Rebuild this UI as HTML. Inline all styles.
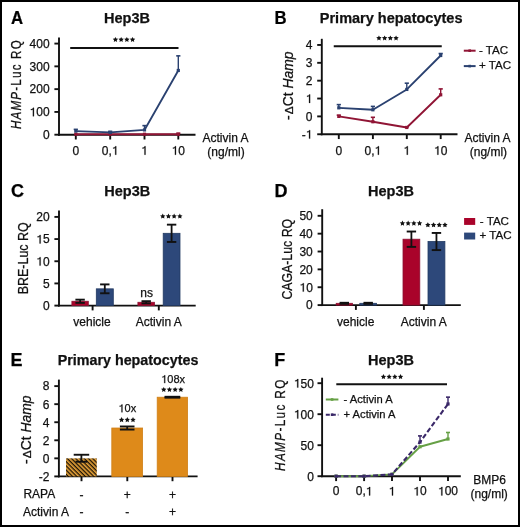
<!DOCTYPE html>
<html><head><meta charset="utf-8"><style>
html,body{margin:0;padding:0;background:#fff;}
body{width:520px;height:527px;overflow:hidden;position:relative;}
svg{position:absolute;left:0;top:0;font-family:"Liberation Sans", sans-serif;will-change:transform;}
text{stroke:#111;stroke-width:0.25px;}
.frame{position:absolute;left:0;top:0;width:520px;height:527px;box-sizing:border-box;border:2px solid #000;}
</style></head><body>
<svg width="520" height="527" viewBox="0 0 520 527">
<rect width="520" height="527" fill="#fff"/>
<text transform="translate(11.00,23.60) scale(0.93,1)" font-size="18" font-weight="bold" fill="#000">A</text>
<text x="127.00" y="23.30" font-size="14.5" text-anchor="middle" font-weight="bold" font-style="normal" fill="#111" >Hep3B</text>
<line x1="59.00" y1="37.40" x2="59.00" y2="135.65" stroke="#111" stroke-width="1.9" />
<line x1="54.40" y1="43.58" x2="59.00" y2="43.58" stroke="#111" stroke-width="1.9" />
<text x="49.60" y="47.93" font-size="12" text-anchor="end" font-weight="normal" font-style="normal" fill="#111" >400</text>
<line x1="54.40" y1="66.36" x2="59.00" y2="66.36" stroke="#111" stroke-width="1.9" />
<text x="49.60" y="70.71" font-size="12" text-anchor="end" font-weight="normal" font-style="normal" fill="#111" >300</text>
<line x1="54.40" y1="89.14" x2="59.00" y2="89.14" stroke="#111" stroke-width="1.9" />
<text x="49.60" y="93.49" font-size="12" text-anchor="end" font-weight="normal" font-style="normal" fill="#111" >200</text>
<line x1="54.40" y1="111.92" x2="59.00" y2="111.92" stroke="#111" stroke-width="1.9" />
<polygon points="33.96,116.27 33.96,107.83 33.00,107.83 32.73,108.59 31.98,109.07 30.84,109.25 30.84,110.03 31.98,109.97 32.52,109.67 32.88,109.37 32.88,116.27" fill="#111" stroke="#111" stroke-width="0.25"/>
<text x="36.26" y="116.27" font-size="12" fill="#111" >00</text>
<line x1="54.40" y1="134.70" x2="59.00" y2="134.70" stroke="#111" stroke-width="1.9" />
<text x="49.60" y="139.05" font-size="12" text-anchor="end" font-weight="normal" font-style="normal" fill="#111" >0</text>
<line x1="58.05" y1="134.70" x2="195.50" y2="134.70" stroke="#111" stroke-width="1.9" />
<line x1="75.80" y1="134.70" x2="75.80" y2="139.50" stroke="#111" stroke-width="1.9" />
<text x="75.80" y="154.70" font-size="12" text-anchor="middle" font-weight="normal" font-style="normal" fill="#111" >0</text>
<line x1="110.20" y1="134.70" x2="110.20" y2="139.50" stroke="#111" stroke-width="1.9" />
<text x="101.86" y="154.70" font-size="12" fill="#111" >0,</text>
<polygon points="116.25,154.70 116.25,146.26 115.29,146.26 115.01,147.02 114.27,147.50 113.13,147.68 113.13,148.46 114.27,148.40 114.81,148.10 115.17,147.80 115.17,154.70" fill="#111" stroke="#111" stroke-width="0.25"/>
<line x1="144.50" y1="134.70" x2="144.50" y2="139.50" stroke="#111" stroke-width="1.9" />
<polygon points="145.54,154.70 145.54,146.26 144.58,146.26 144.31,147.02 143.56,147.50 142.42,147.68 142.42,148.46 143.56,148.40 144.10,148.10 144.46,147.80 144.46,154.70" fill="#111" stroke="#111" stroke-width="0.25"/>
<line x1="178.30" y1="134.70" x2="178.30" y2="139.50" stroke="#111" stroke-width="1.9" />
<polygon points="176.01,154.70 176.01,146.26 175.05,146.26 174.77,147.02 174.03,147.50 172.89,147.68 172.89,148.46 174.03,148.40 174.57,148.10 174.93,147.80 174.93,154.70" fill="#111" stroke="#111" stroke-width="0.25"/>
<text x="178.30" y="154.70" font-size="12" fill="#111" >0</text>
<text x="202.50" y="142.30" font-size="12" text-anchor="start" font-weight="normal" font-style="normal" fill="#111" >Activin A</text>
<text x="226.00" y="156.10" font-size="12" text-anchor="middle" font-weight="normal" font-style="normal" fill="#111" >(ng/ml)</text>
<line x1="70.20" y1="48.00" x2="178.50" y2="48.00" stroke="#111" stroke-width="2.0" />
<polygon points="115.45,36.90 116.27,38.57 118.11,38.83 116.78,40.13 117.10,41.97 115.45,41.10 113.80,41.97 114.12,40.13 112.79,38.83 114.63,38.57" fill="#111"/>
<polygon points="121.15,36.90 121.97,38.57 123.81,38.83 122.48,40.13 122.80,41.97 121.15,41.10 119.50,41.97 119.82,40.13 118.49,38.83 120.33,38.57" fill="#111"/>
<polygon points="126.85,36.90 127.67,38.57 129.51,38.83 128.18,40.13 128.50,41.97 126.85,41.10 125.20,41.97 125.52,40.13 124.19,38.83 126.03,38.57" fill="#111"/>
<polygon points="132.55,36.90 133.37,38.57 135.21,38.83 133.88,40.13 134.20,41.97 132.55,41.10 130.90,41.97 131.22,40.13 129.89,38.83 131.73,38.57" fill="#111"/>
<path d="M75.80,134.24 L110.20,134.24 L144.50,134.24 L178.30,134.24" fill="none" stroke="#901535" stroke-width="1.85" stroke-linejoin="round" />
<line x1="178.30" y1="133.24" x2="178.30" y2="134.24" stroke="#901535" stroke-width="1.4" />
<line x1="176.20" y1="133.24" x2="180.40" y2="133.24" stroke="#901535" stroke-width="1.6" />
<rect x="74.20" y="132.64" width="3.20" height="3.20" fill="#901535" />
<rect x="108.60" y="132.64" width="3.20" height="3.20" fill="#901535" />
<rect x="142.90" y="132.64" width="3.20" height="3.20" fill="#901535" />
<rect x="176.70" y="132.64" width="3.20" height="3.20" fill="#901535" />
<path d="M75.80,131.06 L110.20,132.42 L144.50,129.92 L178.30,70.46" fill="none" stroke="#2a4170" stroke-width="1.85" stroke-linejoin="round" />
<line x1="75.80" y1="129.36" x2="75.80" y2="131.06" stroke="#2a4170" stroke-width="1.4" />
<line x1="73.70" y1="129.36" x2="77.90" y2="129.36" stroke="#2a4170" stroke-width="1.6" />
<line x1="110.20" y1="131.42" x2="110.20" y2="132.42" stroke="#2a4170" stroke-width="1.4" />
<line x1="108.10" y1="131.42" x2="112.30" y2="131.42" stroke="#2a4170" stroke-width="1.6" />
<line x1="144.50" y1="125.62" x2="144.50" y2="129.92" stroke="#2a4170" stroke-width="1.4" />
<line x1="142.40" y1="125.62" x2="146.60" y2="125.62" stroke="#2a4170" stroke-width="1.6" />
<line x1="178.30" y1="55.86" x2="178.30" y2="70.46" stroke="#2a4170" stroke-width="1.4" />
<line x1="176.20" y1="55.86" x2="180.40" y2="55.86" stroke="#2a4170" stroke-width="1.6" />
<rect x="74.20" y="129.46" width="3.20" height="3.20" fill="#2a4170" />
<rect x="108.60" y="130.82" width="3.20" height="3.20" fill="#2a4170" />
<rect x="142.90" y="128.32" width="3.20" height="3.20" fill="#2a4170" />
<rect x="176.70" y="68.86" width="3.20" height="3.20" fill="#2a4170" />
<text transform="translate(21.40,84.10) rotate(-90) scale(0.8,1)" font-size="14.5" text-anchor="middle" fill="#111" letter-spacing="1.5"><tspan font-style="italic" >HAMP</tspan><tspan font-style="normal" >-Luc RQ</tspan></text>
<text transform="translate(274.60,23.60) scale(0.93,1)" font-size="18" font-weight="bold" fill="#000">B</text>
<text x="319.80" y="22.80" font-size="14.5" text-anchor="start" font-weight="bold" font-style="normal" fill="#111" >Primary hepatocytes</text>
<line x1="321.80" y1="38.80" x2="321.80" y2="135.21" stroke="#111" stroke-width="1.9" />
<line x1="317.20" y1="44.96" x2="321.80" y2="44.96" stroke="#111" stroke-width="1.9" />
<text x="312.40" y="49.31" font-size="12" text-anchor="end" font-weight="normal" font-style="normal" fill="#111" >4</text>
<line x1="317.20" y1="62.82" x2="321.80" y2="62.82" stroke="#111" stroke-width="1.9" />
<text x="312.40" y="67.17" font-size="12" text-anchor="end" font-weight="normal" font-style="normal" fill="#111" >3</text>
<line x1="317.20" y1="80.68" x2="321.80" y2="80.68" stroke="#111" stroke-width="1.9" />
<text x="312.40" y="85.03" font-size="12" text-anchor="end" font-weight="normal" font-style="normal" fill="#111" >2</text>
<line x1="317.20" y1="98.54" x2="321.80" y2="98.54" stroke="#111" stroke-width="1.9" />
<polygon points="310.11,102.89 310.11,94.45 309.15,94.45 308.87,95.21 308.13,95.69 306.99,95.87 306.99,96.65 308.13,96.59 308.67,96.29 309.03,95.99 309.03,102.89" fill="#111" stroke="#111" stroke-width="0.25"/>
<line x1="317.20" y1="116.40" x2="321.80" y2="116.40" stroke="#111" stroke-width="1.9" />
<text x="312.40" y="120.75" font-size="12" text-anchor="end" font-weight="normal" font-style="normal" fill="#111" >0</text>
<line x1="317.20" y1="134.26" x2="321.80" y2="134.26" stroke="#111" stroke-width="1.9" />
<text x="301.73" y="138.61" font-size="12" fill="#111" >-</text>
<polygon points="310.11,138.61 310.11,130.17 309.15,130.17 308.87,130.93 308.13,131.41 306.99,131.59 306.99,132.37 308.13,132.31 308.67,132.01 309.03,131.71 309.03,138.61" fill="#111" stroke="#111" stroke-width="0.25"/>
<line x1="320.85" y1="134.26" x2="457.50" y2="134.26" stroke="#111" stroke-width="1.9" />
<line x1="338.80" y1="134.26" x2="338.80" y2="139.06" stroke="#111" stroke-width="1.9" />
<text x="338.80" y="154.70" font-size="12" text-anchor="middle" font-weight="normal" font-style="normal" fill="#111" >0</text>
<line x1="372.90" y1="134.26" x2="372.90" y2="139.06" stroke="#111" stroke-width="1.9" />
<text x="364.56" y="154.70" font-size="12" fill="#111" >0,</text>
<polygon points="378.95,154.70 378.95,146.26 377.99,146.26 377.71,147.02 376.97,147.50 375.83,147.68 375.83,148.46 376.97,148.40 377.51,148.10 377.87,147.80 377.87,154.70" fill="#111" stroke="#111" stroke-width="0.25"/>
<line x1="406.80" y1="134.26" x2="406.80" y2="139.06" stroke="#111" stroke-width="1.9" />
<polygon points="407.84,154.70 407.84,146.26 406.88,146.26 406.61,147.02 405.86,147.50 404.72,147.68 404.72,148.46 405.86,148.40 406.40,148.10 406.76,147.80 406.76,154.70" fill="#111" stroke="#111" stroke-width="0.25"/>
<line x1="440.70" y1="134.26" x2="440.70" y2="139.06" stroke="#111" stroke-width="1.9" />
<polygon points="438.41,154.70 438.41,146.26 437.45,146.26 437.17,147.02 436.43,147.50 435.29,147.68 435.29,148.46 436.43,148.40 436.97,148.10 437.33,147.80 437.33,154.70" fill="#111" stroke="#111" stroke-width="0.25"/>
<text x="440.70" y="154.70" font-size="12" fill="#111" >0</text>
<text x="464.50" y="142.30" font-size="12" text-anchor="start" font-weight="normal" font-style="normal" fill="#111" >Activin A</text>
<text x="488.40" y="156.10" font-size="12" text-anchor="middle" font-weight="normal" font-style="normal" fill="#111" >(ng/ml)</text>
<line x1="333.75" y1="46.20" x2="441.75" y2="46.20" stroke="#111" stroke-width="2.0" />
<polygon points="378.95,35.40 379.77,37.07 381.61,37.33 380.28,38.63 380.60,40.47 378.95,39.60 377.30,40.47 377.62,38.63 376.29,37.33 378.13,37.07" fill="#111"/>
<polygon points="384.65,35.40 385.47,37.07 387.31,37.33 385.98,38.63 386.30,40.47 384.65,39.60 383.00,40.47 383.32,38.63 381.99,37.33 383.83,37.07" fill="#111"/>
<polygon points="390.35,35.40 391.17,37.07 393.01,37.33 391.68,38.63 392.00,40.47 390.35,39.60 388.70,40.47 389.02,38.63 387.69,37.33 389.53,37.07" fill="#111"/>
<polygon points="396.05,35.40 396.87,37.07 398.71,37.33 397.38,38.63 397.70,40.47 396.05,39.60 394.40,40.47 394.72,38.63 393.39,37.33 395.23,37.07" fill="#111"/>
<path d="M338.80,116.40 L372.90,121.76 L406.80,127.47 L440.70,94.79" fill="none" stroke="#901535" stroke-width="1.85" stroke-linejoin="round" />
<line x1="338.80" y1="115.15" x2="338.80" y2="116.40" stroke="#901535" stroke-width="1.4" />
<line x1="336.70" y1="115.15" x2="340.90" y2="115.15" stroke="#901535" stroke-width="1.6" />
<line x1="372.90" y1="117.30" x2="372.90" y2="121.76" stroke="#901535" stroke-width="1.4" />
<line x1="370.80" y1="117.30" x2="375.00" y2="117.30" stroke="#901535" stroke-width="1.6" />
<line x1="406.80" y1="126.76" x2="406.80" y2="127.47" stroke="#901535" stroke-width="1.4" />
<line x1="404.70" y1="126.76" x2="408.90" y2="126.76" stroke="#901535" stroke-width="1.6" />
<line x1="440.70" y1="88.90" x2="440.70" y2="94.79" stroke="#901535" stroke-width="1.4" />
<line x1="438.60" y1="88.90" x2="442.80" y2="88.90" stroke="#901535" stroke-width="1.6" />
<rect x="337.20" y="114.80" width="3.20" height="3.20" fill="#901535" />
<rect x="371.30" y="120.16" width="3.20" height="3.20" fill="#901535" />
<rect x="405.20" y="125.87" width="3.20" height="3.20" fill="#901535" />
<rect x="439.10" y="93.19" width="3.20" height="3.20" fill="#901535" />
<path d="M338.80,107.83 L372.90,109.79 L406.80,89.43 L440.70,55.50" fill="none" stroke="#2a4170" stroke-width="1.85" stroke-linejoin="round" />
<line x1="338.80" y1="104.62" x2="338.80" y2="107.83" stroke="#2a4170" stroke-width="1.4" />
<line x1="336.70" y1="104.62" x2="340.90" y2="104.62" stroke="#2a4170" stroke-width="1.6" />
<line x1="372.90" y1="106.40" x2="372.90" y2="109.79" stroke="#2a4170" stroke-width="1.4" />
<line x1="370.80" y1="106.40" x2="375.00" y2="106.40" stroke="#2a4170" stroke-width="1.6" />
<line x1="406.80" y1="83.19" x2="406.80" y2="89.43" stroke="#2a4170" stroke-width="1.4" />
<line x1="404.70" y1="83.19" x2="408.90" y2="83.19" stroke="#2a4170" stroke-width="1.6" />
<line x1="440.70" y1="53.54" x2="440.70" y2="55.50" stroke="#2a4170" stroke-width="1.4" />
<line x1="438.60" y1="53.54" x2="442.80" y2="53.54" stroke="#2a4170" stroke-width="1.6" />
<rect x="337.20" y="106.23" width="3.20" height="3.20" fill="#2a4170" />
<rect x="371.30" y="108.19" width="3.20" height="3.20" fill="#2a4170" />
<rect x="405.20" y="87.83" width="3.20" height="3.20" fill="#2a4170" />
<rect x="439.10" y="53.90" width="3.20" height="3.20" fill="#2a4170" />
<text transform="translate(293.10,85.80) rotate(-90) scale(1.0,1)" font-size="13.9" text-anchor="middle" fill="#111" ><tspan font-style="normal" >-</tspan><tspan font-style="normal" font-size="11.8" dx="1.2">Δ</tspan><tspan font-style="normal" >Ct </tspan><tspan font-style="italic" >Hamp</tspan></text>
<line x1="463.80" y1="50.70" x2="475.60" y2="50.70" stroke="#901535" stroke-width="2.0" />
<rect x="468.40" y="49.40" width="2.60" height="2.60" fill="#901535" />
<text x="479.00" y="54.00" font-size="11.6" text-anchor="start" font-weight="normal" font-style="normal" fill="#111" >- TAC</text>
<line x1="463.80" y1="66.10" x2="475.60" y2="66.10" stroke="#2a4170" stroke-width="2.0" />
<rect x="468.40" y="64.80" width="2.60" height="2.60" fill="#2a4170" />
<text x="479.00" y="69.10" font-size="11.6" text-anchor="start" font-weight="normal" font-style="normal" fill="#111" >+ TAC</text>
<text transform="translate(11.00,196.60) scale(1.0,1)" font-size="18" font-weight="bold" fill="#000">C</text>
<text x="127.30" y="195.80" font-size="14.5" text-anchor="middle" font-weight="bold" font-style="normal" fill="#111" >Hep3B</text>
<line x1="59.00" y1="210.40" x2="59.00" y2="306.55" stroke="#111" stroke-width="1.9" />
<line x1="54.40" y1="216.90" x2="59.00" y2="216.90" stroke="#111" stroke-width="1.9" />
<text x="49.60" y="221.25" font-size="12" text-anchor="end" font-weight="normal" font-style="normal" fill="#111" >20</text>
<line x1="54.40" y1="239.08" x2="59.00" y2="239.08" stroke="#111" stroke-width="1.9" />
<polygon points="40.64,243.43 40.64,234.99 39.68,234.99 39.40,235.75 38.66,236.23 37.52,236.41 37.52,237.19 38.66,237.13 39.20,236.83 39.56,236.53 39.56,243.43" fill="#111" stroke="#111" stroke-width="0.25"/>
<text x="42.93" y="243.43" font-size="12" fill="#111" >5</text>
<line x1="54.40" y1="261.25" x2="59.00" y2="261.25" stroke="#111" stroke-width="1.9" />
<polygon points="40.64,265.60 40.64,257.16 39.68,257.16 39.40,257.92 38.66,258.40 37.52,258.58 37.52,259.36 38.66,259.30 39.20,259.00 39.56,258.70 39.56,265.60" fill="#111" stroke="#111" stroke-width="0.25"/>
<text x="42.93" y="265.60" font-size="12" fill="#111" >0</text>
<line x1="54.40" y1="283.43" x2="59.00" y2="283.43" stroke="#111" stroke-width="1.9" />
<text x="49.60" y="287.78" font-size="12" text-anchor="end" font-weight="normal" font-style="normal" fill="#111" >5</text>
<line x1="54.40" y1="305.60" x2="59.00" y2="305.60" stroke="#111" stroke-width="1.9" />
<text x="49.60" y="309.95" font-size="12" text-anchor="end" font-weight="normal" font-style="normal" fill="#111" >0</text>
<line x1="58.05" y1="305.60" x2="195.70" y2="305.60" stroke="#111" stroke-width="1.9" />
<line x1="92.60" y1="305.60" x2="92.60" y2="310.40" stroke="#111" stroke-width="1.9" />
<line x1="158.80" y1="305.60" x2="158.80" y2="310.40" stroke="#111" stroke-width="1.9" />
<text x="92.00" y="325.80" font-size="12" text-anchor="middle" font-weight="normal" font-style="normal" fill="#111" >vehicle</text>
<text x="158.80" y="325.80" font-size="12" text-anchor="middle" font-weight="normal" font-style="normal" fill="#111" >Activin A</text>
<rect x="71.90" y="301.25" width="16.40" height="4.35" fill="#a9032a" stroke="#8a1232" stroke-width="0.8"/>
<line x1="80.10" y1="299.66" x2="80.10" y2="302.85" stroke="#111" stroke-width="1.8" />
<line x1="75.40" y1="299.66" x2="84.80" y2="299.66" stroke="#111" stroke-width="1.9" />
<line x1="75.40" y1="302.85" x2="84.80" y2="302.85" stroke="#111" stroke-width="1.9" />
<rect x="96.30" y="288.84" width="17.00" height="16.76" fill="#2d487a" stroke="#223a62" stroke-width="0.8"/>
<line x1="104.80" y1="284.40" x2="104.80" y2="293.27" stroke="#111" stroke-width="1.8" />
<line x1="100.10" y1="284.40" x2="109.50" y2="284.40" stroke="#111" stroke-width="1.9" />
<line x1="100.10" y1="293.27" x2="109.50" y2="293.27" stroke="#111" stroke-width="1.9" />
<rect x="137.90" y="302.27" width="16.60" height="3.33" fill="#a9032a" stroke="#8a1232" stroke-width="0.8"/>
<line x1="146.20" y1="301.17" x2="146.20" y2="303.38" stroke="#111" stroke-width="1.8" />
<line x1="141.50" y1="301.17" x2="150.90" y2="301.17" stroke="#111" stroke-width="1.9" />
<line x1="141.50" y1="303.38" x2="150.90" y2="303.38" stroke="#111" stroke-width="1.9" />
<rect x="163.20" y="233.31" width="16.80" height="72.29" fill="#2d487a" stroke="#223a62" stroke-width="0.8"/>
<line x1="171.60" y1="224.66" x2="171.60" y2="241.96" stroke="#111" stroke-width="1.8" />
<line x1="166.90" y1="224.66" x2="176.30" y2="224.66" stroke="#111" stroke-width="1.9" />
<line x1="166.90" y1="241.96" x2="176.30" y2="241.96" stroke="#111" stroke-width="1.9" />
<text x="146.60" y="296.80" font-size="12" text-anchor="middle" font-weight="normal" font-style="normal" fill="#111" >ns</text>
<polygon points="162.75,213.50 163.57,215.17 165.41,215.43 164.08,216.73 164.40,218.57 162.75,217.70 161.10,218.57 161.42,216.73 160.09,215.43 161.93,215.17" fill="#111"/>
<polygon points="168.45,213.50 169.27,215.17 171.11,215.43 169.78,216.73 170.10,218.57 168.45,217.70 166.80,218.57 167.12,216.73 165.79,215.43 167.63,215.17" fill="#111"/>
<polygon points="174.15,213.50 174.97,215.17 176.81,215.43 175.48,216.73 175.80,218.57 174.15,217.70 172.50,218.57 172.82,216.73 171.49,215.43 173.33,215.17" fill="#111"/>
<polygon points="179.85,213.50 180.67,215.17 182.51,215.43 181.18,216.73 181.50,218.57 179.85,217.70 178.20,218.57 178.52,216.73 177.19,215.43 179.03,215.17" fill="#111"/>
<text transform="translate(28.30,258.30) rotate(-90) scale(0.89,1)" font-size="14" text-anchor="middle" fill="#111" ><tspan font-style="normal" >BRE-Luc RQ</tspan></text>
<text transform="translate(274.50,196.60) scale(1.0,1)" font-size="18" font-weight="bold" fill="#000">D</text>
<text x="391.00" y="195.50" font-size="14.5" text-anchor="middle" font-weight="bold" font-style="normal" fill="#111" >Hep3B</text>
<line x1="322.20" y1="209.20" x2="322.20" y2="306.05" stroke="#111" stroke-width="1.9" />
<line x1="317.60" y1="215.80" x2="322.20" y2="215.80" stroke="#111" stroke-width="1.9" />
<text x="312.80" y="220.15" font-size="12" text-anchor="end" font-weight="normal" font-style="normal" fill="#111" >50</text>
<line x1="317.60" y1="233.66" x2="322.20" y2="233.66" stroke="#111" stroke-width="1.9" />
<text x="312.80" y="238.01" font-size="12" text-anchor="end" font-weight="normal" font-style="normal" fill="#111" >40</text>
<line x1="317.60" y1="251.52" x2="322.20" y2="251.52" stroke="#111" stroke-width="1.9" />
<text x="312.80" y="255.87" font-size="12" text-anchor="end" font-weight="normal" font-style="normal" fill="#111" >30</text>
<line x1="317.60" y1="269.38" x2="322.20" y2="269.38" stroke="#111" stroke-width="1.9" />
<text x="312.80" y="273.73" font-size="12" text-anchor="end" font-weight="normal" font-style="normal" fill="#111" >20</text>
<line x1="317.60" y1="287.24" x2="322.20" y2="287.24" stroke="#111" stroke-width="1.9" />
<polygon points="303.84,291.59 303.84,283.15 302.88,283.15 302.60,283.91 301.86,284.39 300.72,284.57 300.72,285.35 301.86,285.29 302.40,284.99 302.76,284.69 302.76,291.59" fill="#111" stroke="#111" stroke-width="0.25"/>
<text x="306.13" y="291.59" font-size="12" fill="#111" >0</text>
<line x1="317.60" y1="305.10" x2="322.20" y2="305.10" stroke="#111" stroke-width="1.9" />
<text x="312.80" y="309.45" font-size="12" text-anchor="end" font-weight="normal" font-style="normal" fill="#111" >0</text>
<line x1="321.25" y1="305.10" x2="460.80" y2="305.10" stroke="#111" stroke-width="1.9" />
<line x1="355.90" y1="305.10" x2="355.90" y2="309.90" stroke="#111" stroke-width="1.9" />
<line x1="423.90" y1="305.10" x2="423.90" y2="309.90" stroke="#111" stroke-width="1.9" />
<text x="355.70" y="325.50" font-size="12" text-anchor="middle" font-weight="normal" font-style="normal" fill="#111" >vehicle</text>
<text x="423.80" y="325.50" font-size="12" text-anchor="middle" font-weight="normal" font-style="normal" fill="#111" >Activin A</text>
<rect x="336.20" y="303.31" width="16.20" height="1.79" fill="#a9032a" stroke="#8a1232" stroke-width="0.8"/>
<line x1="344.30" y1="302.78" x2="344.30" y2="303.85" stroke="#111" stroke-width="1.8" />
<line x1="339.60" y1="302.78" x2="349.00" y2="302.78" stroke="#111" stroke-width="1.9" />
<line x1="339.60" y1="303.85" x2="349.00" y2="303.85" stroke="#111" stroke-width="1.9" />
<rect x="359.80" y="303.31" width="16.80" height="1.79" fill="#2d487a" stroke="#223a62" stroke-width="0.8"/>
<line x1="368.20" y1="302.78" x2="368.20" y2="303.85" stroke="#111" stroke-width="1.8" />
<line x1="363.50" y1="302.78" x2="372.90" y2="302.78" stroke="#111" stroke-width="1.9" />
<line x1="363.50" y1="303.85" x2="372.90" y2="303.85" stroke="#111" stroke-width="1.9" />
<rect x="403.00" y="239.20" width="16.80" height="65.90" fill="#a9032a" stroke="#8a1232" stroke-width="0.8"/>
<line x1="411.40" y1="231.52" x2="411.40" y2="246.88" stroke="#111" stroke-width="1.8" />
<line x1="406.70" y1="231.52" x2="416.10" y2="231.52" stroke="#111" stroke-width="1.9" />
<line x1="406.70" y1="246.88" x2="416.10" y2="246.88" stroke="#111" stroke-width="1.9" />
<rect x="428.00" y="241.52" width="16.90" height="63.58" fill="#2d487a" stroke="#223a62" stroke-width="0.8"/>
<line x1="436.45" y1="232.95" x2="436.45" y2="250.09" stroke="#111" stroke-width="1.8" />
<line x1="431.75" y1="232.95" x2="441.15" y2="232.95" stroke="#111" stroke-width="1.9" />
<line x1="431.75" y1="250.09" x2="441.15" y2="250.09" stroke="#111" stroke-width="1.9" />
<polygon points="402.45,220.60 403.27,222.27 405.11,222.53 403.78,223.83 404.10,225.67 402.45,224.80 400.80,225.67 401.12,223.83 399.79,222.53 401.63,222.27" fill="#111"/>
<polygon points="408.15,220.60 408.97,222.27 410.81,222.53 409.48,223.83 409.80,225.67 408.15,224.80 406.50,225.67 406.82,223.83 405.49,222.53 407.33,222.27" fill="#111"/>
<polygon points="413.85,220.60 414.67,222.27 416.51,222.53 415.18,223.83 415.50,225.67 413.85,224.80 412.20,225.67 412.52,223.83 411.19,222.53 413.03,222.27" fill="#111"/>
<polygon points="419.55,220.60 420.37,222.27 422.21,222.53 420.88,223.83 421.20,225.67 419.55,224.80 417.90,225.67 418.22,223.83 416.89,222.53 418.73,222.27" fill="#111"/>
<polygon points="427.85,222.20 428.67,223.87 430.51,224.13 429.18,225.43 429.50,227.27 427.85,226.40 426.20,227.27 426.52,225.43 425.19,224.13 427.03,223.87" fill="#111"/>
<polygon points="433.55,222.20 434.37,223.87 436.21,224.13 434.88,225.43 435.20,227.27 433.55,226.40 431.90,227.27 432.22,225.43 430.89,224.13 432.73,223.87" fill="#111"/>
<polygon points="439.25,222.20 440.07,223.87 441.91,224.13 440.58,225.43 440.90,227.27 439.25,226.40 437.60,227.27 437.92,225.43 436.59,224.13 438.43,223.87" fill="#111"/>
<polygon points="444.95,222.20 445.77,223.87 447.61,224.13 446.28,225.43 446.60,227.27 444.95,226.40 443.30,227.27 443.62,225.43 442.29,224.13 444.13,223.87" fill="#111"/>
<text transform="translate(292.40,259.25) rotate(-90) scale(0.88,1)" font-size="14" text-anchor="middle" fill="#111" ><tspan font-style="normal" >CAGA-Luc RQ</tspan></text>
<rect x="464.10" y="218.00" width="11.10" height="6.90" fill="#a9032a" />
<text x="479.80" y="224.80" font-size="11.6" text-anchor="start" font-weight="normal" font-style="normal" fill="#111" >- TAC</text>
<rect x="464.10" y="232.60" width="11.10" height="6.90" fill="#2d487a" />
<text x="479.40" y="239.20" font-size="11.6" text-anchor="start" font-weight="normal" font-style="normal" fill="#111" >+ TAC</text>
<text transform="translate(10.60,365.70) scale(1.0,1)" font-size="18" font-weight="bold" fill="#000">E</text>
<text x="57.70" y="365.20" font-size="14.3" text-anchor="start" font-weight="bold" font-style="normal" fill="#111" >Primary hepatocytes</text>
<line x1="58.90" y1="379.60" x2="58.90" y2="477.36" stroke="#111" stroke-width="1.9" />
<line x1="54.30" y1="386.11" x2="58.90" y2="386.11" stroke="#111" stroke-width="1.9" />
<text x="49.50" y="390.46" font-size="12" text-anchor="end" font-weight="normal" font-style="normal" fill="#111" >8</text>
<line x1="54.30" y1="404.17" x2="58.90" y2="404.17" stroke="#111" stroke-width="1.9" />
<text x="49.50" y="408.52" font-size="12" text-anchor="end" font-weight="normal" font-style="normal" fill="#111" >6</text>
<line x1="54.30" y1="422.23" x2="58.90" y2="422.23" stroke="#111" stroke-width="1.9" />
<text x="49.50" y="426.58" font-size="12" text-anchor="end" font-weight="normal" font-style="normal" fill="#111" >4</text>
<line x1="54.30" y1="440.29" x2="58.90" y2="440.29" stroke="#111" stroke-width="1.9" />
<text x="49.50" y="444.64" font-size="12" text-anchor="end" font-weight="normal" font-style="normal" fill="#111" >2</text>
<line x1="54.30" y1="458.35" x2="58.90" y2="458.35" stroke="#111" stroke-width="1.9" />
<text x="49.50" y="462.70" font-size="12" text-anchor="end" font-weight="normal" font-style="normal" fill="#111" >0</text>
<line x1="54.30" y1="476.41" x2="58.90" y2="476.41" stroke="#111" stroke-width="1.9" />
<text x="49.50" y="480.76" font-size="12" text-anchor="end" font-weight="normal" font-style="normal" fill="#111" >-2</text>
<line x1="57.95" y1="476.41" x2="197.60" y2="476.41" stroke="#111" stroke-width="1.9" />
<line x1="81.50" y1="476.41" x2="81.50" y2="481.21" stroke="#111" stroke-width="1.9" />
<line x1="127.30" y1="476.41" x2="127.30" y2="481.21" stroke="#111" stroke-width="1.9" />
<line x1="172.50" y1="476.41" x2="172.50" y2="481.21" stroke="#111" stroke-width="1.9" />
<defs><pattern id="hatch" patternUnits="userSpaceOnUse" x="0" y="0" width="3" height="3" patternTransform="rotate(45)"><rect width="3" height="3" fill="#eaa53a"/><rect width="3" height="1.35" fill="#1e1406"/></pattern></defs>
<rect x="66.00" y="458.35" width="30.80" height="18.06" fill="url(#hatch)" />
<line x1="81.40" y1="454.75" x2="81.40" y2="461.75" stroke="#111" stroke-width="1.8" />
<line x1="73.70" y1="454.75" x2="89.20" y2="454.75" stroke="#111" stroke-width="1.9" />
<line x1="75.50" y1="461.75" x2="87.30" y2="461.75" stroke="#111" stroke-width="1.9" />
<rect x="111.80" y="428.01" width="30.80" height="48.40" fill="#de8a1a" stroke="#d08018" stroke-width="0.8"/>
<line x1="127.20" y1="426.47" x2="127.20" y2="429.55" stroke="#111" stroke-width="1.8" />
<line x1="119.90" y1="426.47" x2="134.50" y2="426.47" stroke="#111" stroke-width="1.9" />
<line x1="119.90" y1="429.55" x2="134.50" y2="429.55" stroke="#111" stroke-width="1.9" />
<rect x="157.20" y="397.22" width="30.40" height="79.19" fill="#de8a1a" stroke="#d08018" stroke-width="0.8"/>
<line x1="172.40" y1="396.76" x2="172.40" y2="397.67" stroke="#111" stroke-width="1.8" />
<line x1="164.55" y1="396.76" x2="180.25" y2="396.76" stroke="#111" stroke-width="1.9" />
<line x1="164.55" y1="397.67" x2="180.25" y2="397.67" stroke="#111" stroke-width="1.9" />
<polygon points="122.45,412.30 122.45,404.57 121.57,404.57 121.32,405.26 120.63,405.70 119.59,405.87 119.59,406.58 120.63,406.53 121.13,406.25 121.46,405.98 121.46,412.30" fill="#111" stroke="#111" stroke-width="0.25"/>
<text x="124.55" y="412.30" font-size="11" fill="#111" >0x</text>
<polygon points="121.60,417.10 122.42,418.77 124.26,419.03 122.93,420.33 123.25,422.17 121.60,421.30 119.95,422.17 120.27,420.33 118.94,419.03 120.78,418.77" fill="#111"/>
<polygon points="127.30,417.10 128.12,418.77 129.96,419.03 128.63,420.33 128.95,422.17 127.30,421.30 125.65,422.17 125.97,420.33 124.64,419.03 126.48,418.77" fill="#111"/>
<polygon points="133.00,417.10 133.82,418.77 135.66,419.03 134.33,420.33 134.65,422.17 133.00,421.30 131.35,422.17 131.67,420.33 130.34,419.03 132.18,418.77" fill="#111"/>
<polygon points="165.19,383.10 165.19,375.37 164.31,375.37 164.06,376.06 163.38,376.50 162.33,376.67 162.33,377.38 163.38,377.33 163.87,377.05 164.20,376.78 164.20,383.10" fill="#111" stroke="#111" stroke-width="0.25"/>
<text x="167.29" y="383.10" font-size="11" fill="#111" >08x</text>
<polygon points="163.75,386.90 164.57,388.57 166.41,388.83 165.08,390.13 165.40,391.97 163.75,391.10 162.10,391.97 162.42,390.13 161.09,388.83 162.93,388.57" fill="#111"/>
<polygon points="169.45,386.90 170.27,388.57 172.11,388.83 170.78,390.13 171.10,391.97 169.45,391.10 167.80,391.97 168.12,390.13 166.79,388.83 168.63,388.57" fill="#111"/>
<polygon points="175.15,386.90 175.97,388.57 177.81,388.83 176.48,390.13 176.80,391.97 175.15,391.10 173.50,391.97 173.82,390.13 172.49,388.83 174.33,388.57" fill="#111"/>
<polygon points="180.85,386.90 181.67,388.57 183.51,388.83 182.18,390.13 182.50,391.97 180.85,391.10 179.20,391.97 179.52,390.13 178.19,388.83 180.03,388.57" fill="#111"/>
<text transform="translate(31.00,429.80) rotate(-90) scale(1.0,1)" font-size="13.9" text-anchor="middle" fill="#111" ><tspan font-style="normal" >-</tspan><tspan font-style="normal" font-size="11.8" dx="1.2">Δ</tspan><tspan font-style="normal" >Ct </tspan><tspan font-style="italic" >Hamp</tspan></text>
<text x="23.40" y="498.40" font-size="12" text-anchor="start" font-weight="normal" font-style="normal" fill="#111" >RAPA</text>
<text x="23.00" y="515.60" font-size="12" text-anchor="start" font-weight="normal" font-style="normal" fill="#111" >Activin A</text>
<text x="81.50" y="498.80" font-size="12" text-anchor="middle" font-weight="normal" font-style="normal" fill="#111" >-</text>
<text x="127.30" y="498.80" font-size="12" text-anchor="middle" font-weight="normal" font-style="normal" fill="#111" >+</text>
<text x="172.50" y="498.80" font-size="12" text-anchor="middle" font-weight="normal" font-style="normal" fill="#111" >+</text>
<text x="81.50" y="516.20" font-size="12" text-anchor="middle" font-weight="normal" font-style="normal" fill="#111" >-</text>
<text x="127.30" y="516.20" font-size="12" text-anchor="middle" font-weight="normal" font-style="normal" fill="#111" >-</text>
<text x="172.50" y="516.20" font-size="12" text-anchor="middle" font-weight="normal" font-style="normal" fill="#111" >+</text>
<text transform="translate(274.20,365.70) scale(1.0,1)" font-size="18" font-weight="bold" fill="#000">F</text>
<text x="391.00" y="365.00" font-size="14.5" text-anchor="middle" font-weight="bold" font-style="normal" fill="#111" >Hep3B</text>
<line x1="322.10" y1="377.70" x2="322.10" y2="477.15" stroke="#111" stroke-width="1.9" />
<line x1="317.50" y1="383.20" x2="322.10" y2="383.20" stroke="#111" stroke-width="1.9" />
<polygon points="298.26,387.55 298.26,379.11 297.30,379.11 297.03,379.87 296.28,380.35 295.14,380.53 295.14,381.31 296.28,381.25 296.82,380.95 297.18,380.65 297.18,387.55" fill="#111" stroke="#111" stroke-width="0.25"/>
<text x="300.56" y="387.55" font-size="12" fill="#111" >50</text>
<line x1="317.50" y1="414.20" x2="322.10" y2="414.20" stroke="#111" stroke-width="1.9" />
<polygon points="298.26,418.55 298.26,410.11 297.30,410.11 297.03,410.87 296.28,411.35 295.14,411.53 295.14,412.31 296.28,412.25 296.82,411.95 297.18,411.65 297.18,418.55" fill="#111" stroke="#111" stroke-width="0.25"/>
<text x="300.56" y="418.55" font-size="12" fill="#111" >00</text>
<line x1="317.50" y1="445.20" x2="322.10" y2="445.20" stroke="#111" stroke-width="1.9" />
<text x="313.90" y="449.55" font-size="12" text-anchor="end" font-weight="normal" font-style="normal" fill="#111" >50</text>
<line x1="317.50" y1="476.20" x2="322.10" y2="476.20" stroke="#111" stroke-width="1.9" />
<text x="313.90" y="480.55" font-size="12" text-anchor="end" font-weight="normal" font-style="normal" fill="#111" >0</text>
<line x1="321.15" y1="476.30" x2="460.80" y2="476.30" stroke="#111" stroke-width="1.9" />
<line x1="336.10" y1="476.30" x2="336.10" y2="481.10" stroke="#111" stroke-width="1.9" />
<text x="336.10" y="495.40" font-size="12" text-anchor="middle" font-weight="normal" font-style="normal" fill="#111" >0</text>
<line x1="364.10" y1="476.30" x2="364.10" y2="481.10" stroke="#111" stroke-width="1.9" />
<text x="355.76" y="495.40" font-size="12" fill="#111" >0,</text>
<polygon points="370.15,495.40 370.15,486.96 369.19,486.96 368.91,487.72 368.17,488.20 367.03,488.38 367.03,489.16 368.17,489.10 368.71,488.80 369.07,488.50 369.07,495.40" fill="#111" stroke="#111" stroke-width="0.25"/>
<line x1="392.00" y1="476.30" x2="392.00" y2="481.10" stroke="#111" stroke-width="1.9" />
<polygon points="393.04,495.40 393.04,486.96 392.08,486.96 391.81,487.72 391.06,488.20 389.92,488.38 389.92,489.16 391.06,489.10 391.60,488.80 391.96,488.50 391.96,495.40" fill="#111" stroke="#111" stroke-width="0.25"/>
<line x1="420.00" y1="476.30" x2="420.00" y2="481.10" stroke="#111" stroke-width="1.9" />
<polygon points="417.71,495.40 417.71,486.96 416.75,486.96 416.47,487.72 415.73,488.20 414.59,488.38 414.59,489.16 415.73,489.10 416.27,488.80 416.63,488.50 416.63,495.40" fill="#111" stroke="#111" stroke-width="0.25"/>
<text x="420.00" y="495.40" font-size="12" fill="#111" >0</text>
<line x1="448.00" y1="476.30" x2="448.00" y2="481.10" stroke="#111" stroke-width="1.9" />
<polygon points="442.37,495.40 442.37,486.96 441.41,486.96 441.14,487.72 440.39,488.20 439.25,488.38 439.25,489.16 440.39,489.10 440.93,488.80 441.29,488.50 441.29,495.40" fill="#111" stroke="#111" stroke-width="0.25"/>
<text x="444.66" y="495.40" font-size="12" fill="#111" >00</text>
<text x="489.70" y="484.20" font-size="12" text-anchor="middle" font-weight="normal" font-style="normal" fill="#111" >BMP6</text>
<text x="489.20" y="497.70" font-size="12" text-anchor="middle" font-weight="normal" font-style="normal" fill="#111" >(ng/ml)</text>
<line x1="336.30" y1="384.30" x2="447.00" y2="384.30" stroke="#111" stroke-width="2.0" />
<polygon points="383.45,374.00 384.27,375.67 386.11,375.93 384.78,377.23 385.10,379.07 383.45,378.20 381.80,379.07 382.12,377.23 380.79,375.93 382.63,375.67" fill="#111"/>
<polygon points="389.15,374.00 389.97,375.67 391.81,375.93 390.48,377.23 390.80,379.07 389.15,378.20 387.50,379.07 387.82,377.23 386.49,375.93 388.33,375.67" fill="#111"/>
<polygon points="394.85,374.00 395.67,375.67 397.51,375.93 396.18,377.23 396.50,379.07 394.85,378.20 393.20,379.07 393.52,377.23 392.19,375.93 394.03,375.67" fill="#111"/>
<polygon points="400.55,374.00 401.37,375.67 403.21,375.93 401.88,377.23 402.20,379.07 400.55,378.20 398.90,379.07 399.22,377.23 397.89,375.93 399.73,375.67" fill="#111"/>
<path d="M336.10,476.20 L364.10,476.20 L392.00,474.34 L420.00,446.75 L448.00,439.00" fill="none" stroke="#66a045" stroke-width="1.85" stroke-linejoin="round" />
<line x1="448.00" y1="432.49" x2="448.00" y2="439.00" stroke="#66a045" stroke-width="1.4" />
<line x1="446.00" y1="432.49" x2="450.00" y2="432.49" stroke="#66a045" stroke-width="1.6" />
<rect x="334.50" y="474.60" width="3.20" height="3.20" fill="#66a045" />
<rect x="362.50" y="474.60" width="3.20" height="3.20" fill="#66a045" />
<rect x="390.40" y="472.74" width="3.20" height="3.20" fill="#66a045" />
<rect x="418.40" y="445.15" width="3.20" height="3.20" fill="#66a045" />
<rect x="446.40" y="437.40" width="3.20" height="3.20" fill="#66a045" />
<path d="M336.10,476.20 L364.10,476.20 L392.00,474.34 L420.00,442.10 L448.00,403.97" fill="none" stroke="#3a2868" stroke-width="2.1" stroke-linejoin="round" stroke-dasharray="5,2.4"/>
<line x1="420.00" y1="435.90" x2="420.00" y2="442.10" stroke="#3a2868" stroke-width="1.4" />
<line x1="418.00" y1="435.90" x2="422.00" y2="435.90" stroke="#3a2868" stroke-width="1.6" />
<line x1="448.00" y1="397.15" x2="448.00" y2="403.97" stroke="#3a2868" stroke-width="1.4" />
<line x1="446.00" y1="397.15" x2="450.00" y2="397.15" stroke="#3a2868" stroke-width="1.6" />
<rect x="334.50" y="474.60" width="3.20" height="3.20" fill="#3a2868" />
<rect x="362.50" y="474.60" width="3.20" height="3.20" fill="#3a2868" />
<rect x="390.40" y="472.74" width="3.20" height="3.20" fill="#3a2868" />
<rect x="418.40" y="440.50" width="3.20" height="3.20" fill="#3a2868" />
<rect x="446.40" y="402.37" width="3.20" height="3.20" fill="#3a2868" />
<text transform="translate(284.60,424.60) rotate(-90) scale(0.8,1)" font-size="14.7" text-anchor="middle" fill="#111" letter-spacing="1.7"><tspan font-style="italic" >HAMP</tspan><tspan font-style="normal" >-Luc RQ</tspan></text>
<line x1="325.80" y1="399.50" x2="338.40" y2="399.50" stroke="#66a045" stroke-width="2.0" />
<rect x="330.80" y="398.20" width="2.60" height="2.60" fill="#66a045" />
<text x="343.60" y="403.40" font-size="11.2" text-anchor="start" font-weight="normal" font-style="normal" fill="#111" >- Activin A</text>
<line x1="325.80" y1="414.70" x2="338.40" y2="414.70" stroke="#3a2868" stroke-width="2.0" stroke-dasharray="4,2"/>
<rect x="330.80" y="413.40" width="2.60" height="2.60" fill="#3a2868" />
<text x="343.60" y="418.30" font-size="11.2" text-anchor="start" font-weight="normal" font-style="normal" fill="#111" >+ Activin A</text>
</svg>
<div class="frame"></div>
</body></html>
